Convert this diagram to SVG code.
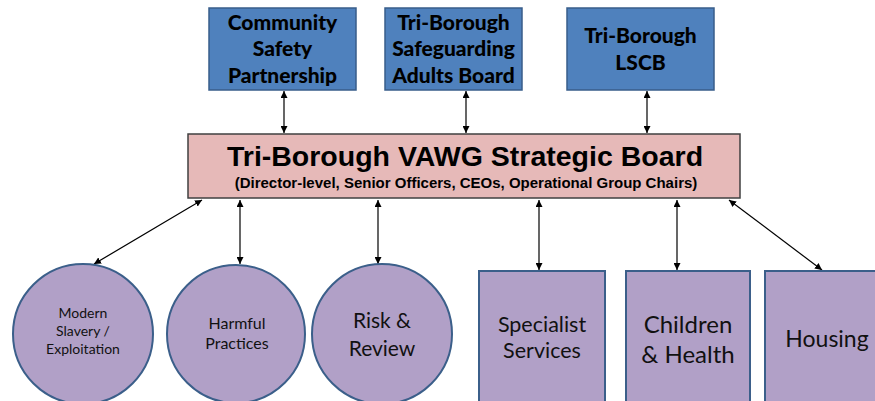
<svg xmlns="http://www.w3.org/2000/svg" width="875" height="401" viewBox="0 0 875 401">
<defs>
<marker id="ah" viewBox="0 0 10 10" refX="10" refY="5" markerWidth="7" markerHeight="7" markerUnits="userSpaceOnUse" orient="auto-start-reverse">
<path d="M0,0 L10,5 L0,10 z" fill="#000"/>
</marker>
<style>
.top{fill:#4F81BD;stroke:#385D8A;stroke-width:1.5}
.board{fill:#E6B9B8;stroke:#404040;stroke-width:1.5}
.pur{fill:#B1A0C7;stroke:#3B5F8A;stroke-width:2}
.tt{font-family:Lato,"Liberation Sans",sans-serif;font-weight:900;font-size:21px;fill:#000;text-anchor:middle}
.bt{font-family:"Liberation Sans",Arial,sans-serif;font-weight:bold;fill:#000;text-anchor:middle}
.pt{font-family:Lato,"Liberation Sans",sans-serif;fill:#111;text-anchor:middle}
.con line{stroke:#000;stroke-width:1.2;marker-start:url(#ah);marker-end:url(#ah)}
</style>
</defs>
<g class="con">
<line x1="284" y1="91" x2="284" y2="133"/>
<line x1="466" y1="91" x2="466" y2="133"/>
<line x1="647" y1="91" x2="647" y2="133"/>
<line x1="202" y1="200" x2="94" y2="264"/>
<line x1="240" y1="200" x2="240" y2="264"/>
<line x1="378" y1="200" x2="378" y2="264"/>
<line x1="539" y1="200" x2="539" y2="270"/>
<line x1="677" y1="200" x2="677" y2="270"/>
<line x1="729" y1="200" x2="822" y2="270"/>
</g>
<g id="csp"><rect class="top" x="209" y="8" width="147" height="82"/>
<text class="tt" x="282.5" y="30">Community</text><text class="tt" x="282.5" y="56">Safety</text><text class="tt" x="282.5" y="83">Partnership</text></g>
<g id="sab"><rect class="top" x="385" y="8" width="137" height="82"/>
<text class="tt" x="453.5" y="30">Tri-Borough</text><text class="tt" x="453.5" y="56">Safeguarding</text><text class="tt" x="453.5" y="83">Adults Board</text></g>
<g id="lscb"><rect class="top" x="567" y="8" width="147" height="82"/>
<text class="tt" x="640.5" y="43">Tri-Borough</text><text class="tt" x="640.5" y="70">LSCB</text></g>
<g id="board"><rect class="board" x="188" y="134" width="552" height="64"/>
<text class="bt" x="465" y="166" font-size="28.5">Tri-Borough VAWG Strategic Board</text>
<text class="bt" x="466" y="188" font-size="15">(Director-level, Senior Officers, CEOs, Operational Group Chairs)</text></g>
<g id="modern"><circle class="pur" cx="83" cy="334" r="70"/>
<text class="pt" x="83" y="318" font-size="14">Modern</text><text class="pt" x="83" y="336" font-size="14">Slavery /</text><text class="pt" x="83" y="354" font-size="14">Exploitation</text></g>
<g id="harmful"><circle class="pur" cx="236" cy="334" r="69"/>
<text class="pt" x="237" y="329" font-size="16">Harmful</text><text class="pt" x="237" y="349" font-size="16">Practices</text></g>
<g id="risk"><circle class="pur" cx="382" cy="334" r="70"/>
<text class="pt" x="382" y="328" font-size="21">Risk &amp;</text><text class="pt" x="382" y="356" font-size="21">Review</text></g>
<g id="spec"><rect class="pur" x="479" y="271" width="126" height="140"/>
<text class="pt" x="542" y="332" font-size="21.5">Specialist</text><text class="pt" x="542" y="358" font-size="21.5">Services</text></g>
<g id="child"><rect class="pur" x="626" y="271" width="124" height="140"/>
<text class="pt" x="688" y="333" font-size="24">Children</text><text class="pt" x="688" y="363" font-size="24">&amp; Health</text></g>
<g id="housing"><rect class="pur" x="765" y="271" width="130" height="140"/>
<text class="pt" x="827" y="347" font-size="23">Housing</text></g>
</svg>
